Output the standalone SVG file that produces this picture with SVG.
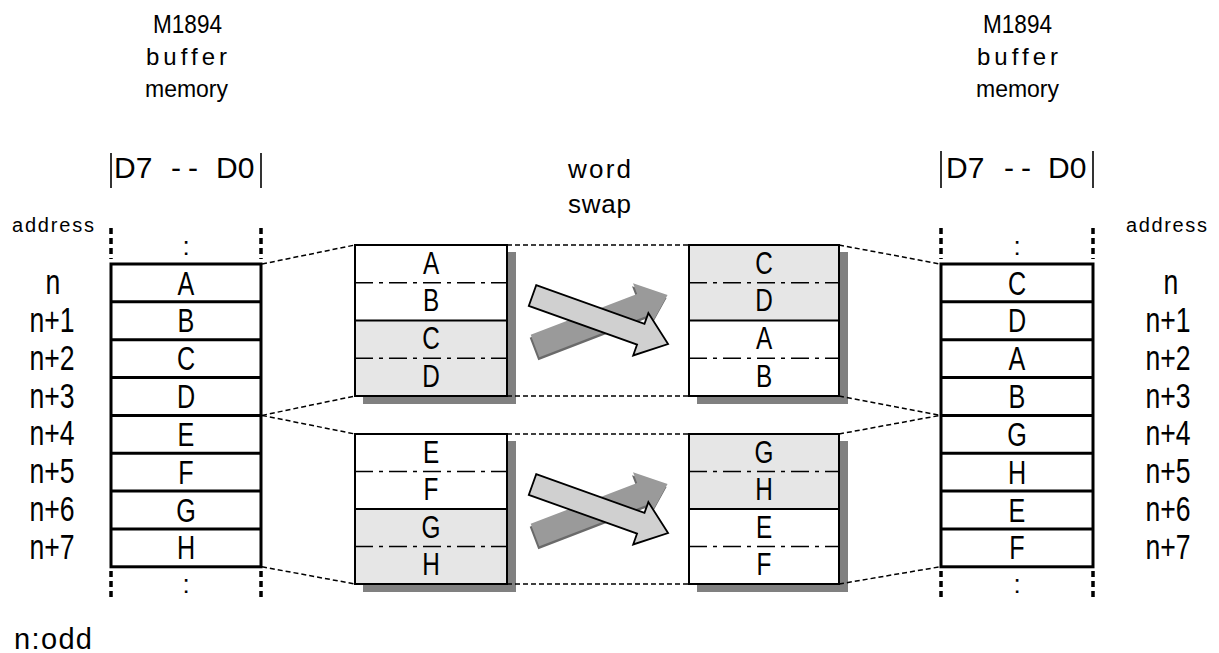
<svg xmlns="http://www.w3.org/2000/svg" width="1219" height="653" viewBox="0 0 1219 653">
<style>
text{font-family:"Liberation Sans",Arial,sans-serif;fill:#000}
.cell{font-size:34px;text-anchor:middle}
.mcell{font-size:32px;text-anchor:middle}
.lab{font-size:35px;text-anchor:middle}
.hdr{font-size:30px}
.col{fill:#fff;stroke:#000;stroke-width:3}
.row{stroke:#000;stroke-width:3}
.dots{stroke:#000;stroke-width:3.5;stroke-dasharray:6 4}
.blk{stroke:#000;stroke-width:2;fill:none}
.dd{stroke:#000;stroke-width:1.6;stroke-dasharray:18 6 4 6;fill:none}
.shadow{fill:#808080}
.wh{fill:#fff}
.gr{fill:#e6e6e6}
.conn{stroke:#000;stroke-width:1.5;stroke-dasharray:5 3;fill:none}
.bar{stroke:#000;stroke-width:1.6}
.la{fill:#d0d0d0;stroke:#000;stroke-width:1.8;stroke-linejoin:miter}
.da{fill:#9a9a9a}
.de{fill:#6a6a6a}
</style>
<defs>
<polygon id="arr" points="0,-11 115,-11 115,-22.5 144,0 115,22.5 115,11 0,11"/>
<polygon id="arrd" points="0,-12 114,-12 114,-23.5 142,0 114,23.5 114,12 0,12"/>
</defs>

<g id="title-left">
<text font-size="25" x="153" y="33" textLength="69" lengthAdjust="spacingAndGlyphs">M1894</text>
<text font-size="24" x="146" y="65" textLength="81" lengthAdjust="spacing">buffer</text>
<text font-size="24" x="145" y="97" textLength="83" lengthAdjust="spacingAndGlyphs">memory</text>
</g>
<g id="title-right">
<text font-size="25" x="983" y="33" textLength="69" lengthAdjust="spacingAndGlyphs">M1894</text>
<text font-size="24" x="977" y="65" textLength="81" lengthAdjust="spacing">buffer</text>
<text font-size="24" x="976" y="97" textLength="83" lengthAdjust="spacingAndGlyphs">memory</text>
</g>
<g id="header-left">
<line class="bar" x1="111" y1="153" x2="111" y2="188"/>
<line class="bar" x1="261" y1="153" x2="261" y2="188"/>
<text class="hdr" y="178"><tspan x="114">D7</tspan><tspan x="171" textLength="27" lengthAdjust="spacing">--</tspan><tspan x="216">D0</tspan></text>
</g>
<g id="header-right">
<line class="bar" x1="941" y1="151" x2="941" y2="188"/>
<line class="bar" x1="1093" y1="151" x2="1093" y2="188"/>
<text class="hdr" y="178"><tspan x="946">D7</tspan><tspan x="1004" textLength="27" lengthAdjust="spacing">--</tspan><tspan x="1048">D0</tspan></text>
</g>
<g id="word-swap">
<text font-size="26" x="568" y="178" textLength="63" lengthAdjust="spacing">word</text>
<text font-size="26" x="568" y="213" textLength="63" lengthAdjust="spacing">swap</text>
</g>
<g id="address-left"><text font-size="20" x="12" y="232" textLength="82" lengthAdjust="spacing">address</text></g>
<g id="address-right"><text font-size="20" x="1126" y="232" textLength="81" lengthAdjust="spacing">address</text></g>

<g id="memory-left">
<line class="dots" x1="111" y1="228" x2="111" y2="259"/>
<line class="dots" x1="261" y1="228" x2="261" y2="259"/>
<line class="dots" x1="111" y1="571" x2="111" y2="599"/>
<line class="dots" x1="261" y1="571" x2="261" y2="599"/>
<text font-size="26" x="186" y="255" text-anchor="middle">:</text>
<text font-size="26" x="186" y="593" text-anchor="middle">:</text>
<rect class="col" x="111" y="264" width="150" height="302.8"/>
<line class="row" x1="111" y1="301.85" x2="261" y2="301.85"/>
<line class="row" x1="111" y1="339.7" x2="261" y2="339.7"/>
<line class="row" x1="111" y1="377.55" x2="261" y2="377.55"/>
<line class="row" x1="111" y1="415.4" x2="261" y2="415.4"/>
<line class="row" x1="111" y1="453.25" x2="261" y2="453.25"/>
<line class="row" x1="111" y1="491.1" x2="261" y2="491.1"/>
<line class="row" x1="111" y1="528.95" x2="261" y2="528.95"/>
<text class="cell" transform="translate(186,294.5) scale(0.74,1)">A</text>
<text class="cell" transform="translate(186,332.35) scale(0.74,1)">B</text>
<text class="cell" transform="translate(186,370.2) scale(0.74,1)">C</text>
<text class="cell" transform="translate(186,408.05) scale(0.74,1)">D</text>
<text class="cell" transform="translate(186,445.9) scale(0.74,1)">E</text>
<text class="cell" transform="translate(186,483.75) scale(0.74,1)">F</text>
<text class="cell" transform="translate(186,521.6) scale(0.74,1)">G</text>
<text class="cell" transform="translate(186,559.45) scale(0.74,1)">H</text>
</g>
<g id="labels-left">
<text class="lab" transform="translate(53,294) scale(0.76,1)">n</text>
<text class="lab" transform="translate(52,331.85) scale(0.76,1)">n+1</text>
<text class="lab" transform="translate(52,369.7) scale(0.76,1)">n+2</text>
<text class="lab" transform="translate(52,407.55) scale(0.76,1)">n+3</text>
<text class="lab" transform="translate(52,445.4) scale(0.76,1)">n+4</text>
<text class="lab" transform="translate(52,483.25) scale(0.76,1)">n+5</text>
<text class="lab" transform="translate(52,521.1) scale(0.76,1)">n+6</text>
<text class="lab" transform="translate(52,558.95) scale(0.76,1)">n+7</text>
</g>

<g id="memory-right">
<line class="dots" x1="941" y1="228" x2="941" y2="259"/>
<line class="dots" x1="1093" y1="228" x2="1093" y2="259"/>
<line class="dots" x1="941" y1="571" x2="941" y2="599"/>
<line class="dots" x1="1093" y1="571" x2="1093" y2="599"/>
<text font-size="26" x="1017" y="255" text-anchor="middle">:</text>
<text font-size="26" x="1017" y="593" text-anchor="middle">:</text>
<rect class="col" x="941" y="264" width="152" height="302.8"/>
<line class="row" x1="941" y1="301.85" x2="1093" y2="301.85"/>
<line class="row" x1="941" y1="339.7" x2="1093" y2="339.7"/>
<line class="row" x1="941" y1="377.55" x2="1093" y2="377.55"/>
<line class="row" x1="941" y1="415.4" x2="1093" y2="415.4"/>
<line class="row" x1="941" y1="453.25" x2="1093" y2="453.25"/>
<line class="row" x1="941" y1="491.1" x2="1093" y2="491.1"/>
<line class="row" x1="941" y1="528.95" x2="1093" y2="528.95"/>
<text class="cell" transform="translate(1017,294.5) scale(0.74,1)">C</text>
<text class="cell" transform="translate(1017,332.35) scale(0.74,1)">D</text>
<text class="cell" transform="translate(1017,370.2) scale(0.74,1)">A</text>
<text class="cell" transform="translate(1017,408.05) scale(0.74,1)">B</text>
<text class="cell" transform="translate(1017,445.9) scale(0.74,1)">G</text>
<text class="cell" transform="translate(1017,483.75) scale(0.74,1)">H</text>
<text class="cell" transform="translate(1017,521.6) scale(0.74,1)">E</text>
<text class="cell" transform="translate(1017,559.45) scale(0.74,1)">F</text>
</g>
<g id="labels-right">
<text class="lab" transform="translate(1171,294) scale(0.76,1)">n</text>
<text class="lab" transform="translate(1168,331.85) scale(0.76,1)">n+1</text>
<text class="lab" transform="translate(1168,369.7) scale(0.76,1)">n+2</text>
<text class="lab" transform="translate(1168,407.55) scale(0.76,1)">n+3</text>
<text class="lab" transform="translate(1168,445.4) scale(0.76,1)">n+4</text>
<text class="lab" transform="translate(1168,483.25) scale(0.76,1)">n+5</text>
<text class="lab" transform="translate(1168,521.1) scale(0.76,1)">n+6</text>
<text class="lab" transform="translate(1168,558.95) scale(0.76,1)">n+7</text>
</g>

<g id="block-src-1">
<rect class="shadow" x="363" y="252" width="153" height="152"/>
<rect class="wh" x="355" y="245" width="152" height="75.5"/>
<rect class="gr" x="355" y="320.5" width="152" height="75.5"/>
<line class="dd" x1="355" y1="282.75" x2="507" y2="282.75"/>
<line class="dd" x1="355" y1="358.25" x2="507" y2="358.25"/>
<line class="blk" x1="355" y1="320.5" x2="507" y2="320.5"/>
<rect class="blk" x="355" y="245" width="152" height="151"/>
<text class="mcell" transform="translate(431,273.5) scale(0.76,1)">A</text>
<text class="mcell" transform="translate(431,311.25) scale(0.76,1)">B</text>
<text class="mcell" transform="translate(431,349) scale(0.76,1)">C</text>
<text class="mcell" transform="translate(431,386.75) scale(0.76,1)">D</text>
</g>
<g id="block-dst-1">
<rect class="shadow" x="697" y="252" width="151" height="152"/>
<rect class="gr" x="689" y="245" width="150" height="75.5"/>
<rect class="wh" x="689" y="320.5" width="150" height="75.5"/>
<line class="dd" x1="689" y1="282.75" x2="839" y2="282.75"/>
<line class="dd" x1="689" y1="358.25" x2="839" y2="358.25"/>
<line class="blk" x1="689" y1="320.5" x2="839" y2="320.5"/>
<rect class="blk" x="689" y="245" width="150" height="151"/>
<text class="mcell" transform="translate(764,273.5) scale(0.76,1)">C</text>
<text class="mcell" transform="translate(764,311.25) scale(0.76,1)">D</text>
<text class="mcell" transform="translate(764,349) scale(0.76,1)">A</text>
<text class="mcell" transform="translate(764,386.75) scale(0.76,1)">B</text>
</g>
<g id="block-src-2">
<rect class="shadow" x="363" y="441" width="153" height="151"/>
<rect class="wh" x="355" y="434" width="152" height="75"/>
<rect class="gr" x="355" y="509" width="152" height="75"/>
<line class="dd" x1="355" y1="471.5" x2="507" y2="471.5"/>
<line class="dd" x1="355" y1="546.5" x2="507" y2="546.5"/>
<line class="blk" x1="355" y1="509" x2="507" y2="509"/>
<rect class="blk" x="355" y="434" width="152" height="150"/>
<text class="mcell" transform="translate(431,462.5) scale(0.76,1)">E</text>
<text class="mcell" transform="translate(431,500) scale(0.76,1)">F</text>
<text class="mcell" transform="translate(431,537.5) scale(0.76,1)">G</text>
<text class="mcell" transform="translate(431,575) scale(0.76,1)">H</text>
</g>
<g id="block-dst-2">
<rect class="shadow" x="697" y="441" width="151" height="151"/>
<rect class="gr" x="689" y="434" width="150" height="75"/>
<rect class="wh" x="689" y="509" width="150" height="75"/>
<line class="dd" x1="689" y1="471.5" x2="839" y2="471.5"/>
<line class="dd" x1="689" y1="546.5" x2="839" y2="546.5"/>
<line class="blk" x1="689" y1="509" x2="839" y2="509"/>
<rect class="blk" x="689" y="434" width="150" height="150"/>
<text class="mcell" transform="translate(764,462.5) scale(0.76,1)">G</text>
<text class="mcell" transform="translate(764,500) scale(0.76,1)">H</text>
<text class="mcell" transform="translate(764,537.5) scale(0.76,1)">E</text>
<text class="mcell" transform="translate(764,575) scale(0.76,1)">F</text>
</g>

<g id="swap-arrows-1">
<use href="#arrd" class="de" transform="translate(534,349) rotate(-21)"/>
<use href="#arrd" class="da" transform="translate(535,346) rotate(-21)"/>
<use href="#arr" class="la" transform="translate(532.5,295.5) rotate(19.7)"/>
</g>
<g id="swap-arrows-2">
<use href="#arrd" class="de" transform="translate(534,538) rotate(-21)"/>
<use href="#arrd" class="da" transform="translate(535,535) rotate(-21)"/>
<use href="#arr" class="la" transform="translate(532.5,484.5) rotate(19.7)"/>
</g>

<g id="connectors">
<line class="conn" x1="262" y1="264" x2="355" y2="245"/>
<line class="conn" x1="262" y1="415.4" x2="355" y2="396"/>
<line class="conn" x1="262" y1="415.4" x2="355" y2="434"/>
<line class="conn" x1="262" y1="566.8" x2="355" y2="584"/>
<line class="conn" x1="507" y1="245" x2="689" y2="245"/>
<line class="conn" x1="507" y1="396" x2="689" y2="396"/>
<line class="conn" x1="507" y1="434" x2="689" y2="434"/>
<line class="conn" x1="507" y1="584" x2="689" y2="584"/>
<line class="conn" x1="839" y1="245" x2="940" y2="264"/>
<line class="conn" x1="839" y1="396" x2="940" y2="415.4"/>
<line class="conn" x1="839" y1="434" x2="940" y2="415.4"/>
<line class="conn" x1="839" y1="584" x2="940" y2="566.8"/>
</g>

<g id="note"><text font-size="29" x="14" y="649" textLength="78" lengthAdjust="spacing">n:odd</text></g>
</svg>
